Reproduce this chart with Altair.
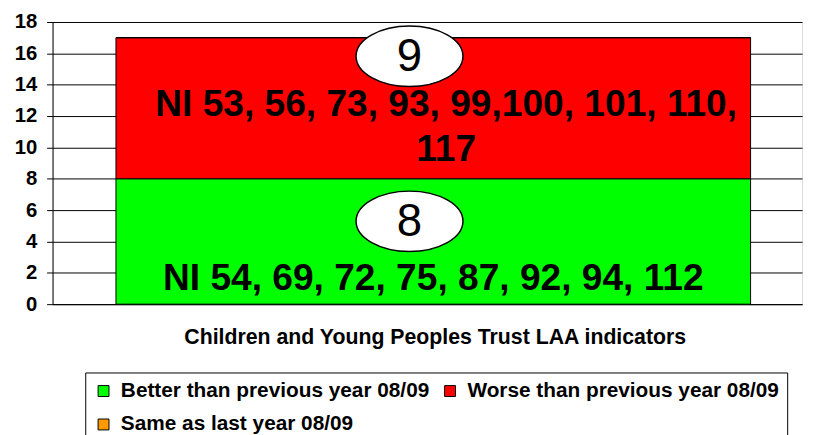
import altair as alt
import pandas as pd

# ---- data ----
group_name = "CYPT"
categories = ["Better than previous year 08/09", "Worse than previous year 08/09", "Same as last year 08/09"]
counts = [8, 9, 0]
colors = ["#00FF00", "#FF0000", "#FF9900"]
indicator_lines = [
    ["NI 54, 69, 72, 75, 87, 92, 94, 112"],
    ["NI 53, 56, 73, 93, 99,100, 101, 110,", "117"],
    [""],
]
y_ticks = [0, 2, 4, 6, 8, 10, 12, 14, 16, 18]
x_title = "Children and Young Peoples Trust LAA indicators"

df = pd.DataFrame({
    "group": [group_name] * len(categories),
    "category": categories,
    "count": counts,
    "rank": list(range(len(categories))),
    "label": ["\n".join(l) for l in indicator_lines],
})

ELLIPSE = "M -1 0 A 1 0.565 0 1 1 1 0 A 1 0.565 0 1 1 -1 0 Z"
FONT = "Liberation Sans"

x_axis = alt.Axis(
    labels=False, ticks=False, title=x_title, domainColor="black",
    titleFont=FONT, titleFontSize=21.5, titleFontWeight="bold", titleColor="black",
    titleX=386, titleY=40, titleBaseline="alphabetic", titleAlign="center",
)
y_axis = alt.Axis(
    values=y_ticks, title=None, grid=True, gridColor="black", gridOpacity=1,
    domainColor="black", tickColor="black", tickSize=6, labelPadding=10,
    labelOverlap=False, labelFlush=False,
    labelFont=FONT, labelFontSize=20.5, labelFontWeight="bold", labelColor="black",
)
x_scale = alt.Scale(paddingInner=0, paddingOuter=0.0905, align=0.552)
y_scale = alt.Scale(domain=[0, 18], nice=False)

base = alt.Chart(df)

bars = base.mark_bar(stroke="black", strokeWidth=1).encode(
    x=alt.X("group:N", scale=x_scale, axis=x_axis),
    y=alt.Y("count:Q", stack="zero", scale=y_scale, axis=y_axis),
    color=alt.Color(
        "category:N",
        sort=categories,
        scale=alt.Scale(domain=categories, range=colors),
        legend=alt.Legend(
            title=None, orient="none", legendX=33, legendY=354, columns=2,
            direction="horizontal",
            symbolType="square", symbolSize=121, symbolStrokeColor="black",
            symbolStrokeWidth=1, symbolOpacity=1,
            labelFont=FONT, labelFontSize=21, labelFontWeight="bold", labelColor="black",
            labelLimit=600, labelOffset=7, strokeColor="black", fillColor="white",
            padding=8, rowPadding=12, columnPadding=10,
        ),
    ),
    order=alt.Order("rank:Q"),
)

stacked = base.transform_stack(
    stack="count", groupby=["group"], as_=["y0", "y1"],
    sort=[alt.SortField("rank", order="ascending")],
)


def labels_for(cat, ell_off, num_off, text_dx, text_dy):
    sub = stacked.transform_filter(alt.datum.category == cat)
    enc = dict(x=alt.X("group:N", scale=x_scale, axis=x_axis),
               y=alt.Y("y1:Q", scale=y_scale, axis=y_axis))
    ell = sub.mark_point(
        shape=ELLIPSE, size=11664, filled=True, fill="white", stroke="black",
        strokeWidth=1.5, opacity=1, xOffset=-24, yOffset=ell_off,
    ).encode(**enc)
    num = sub.mark_text(
        font=FONT, fontSize=46, color="black", baseline="middle", align="center",
        dx=-24, dy=num_off,
    ).encode(text="count:Q", **enc)
    txt = sub.mark_text(
        font=FONT, fontSize=37.5, fontWeight="bold", color="black", align="center",
        baseline="alphabetic", lineBreak="\n", lineHeight=45, dx=text_dx, dy=text_dy,
    ).encode(text="label:N", **enc)
    return [ell, num, txt]


layers = [bars]
layers += labels_for(categories[1], 18.7, 20, 13, 79.2)
layers += labels_for(categories[0], 43, 44, 0, 112.7)

chart = alt.layer(*layers).properties(
    width=757, height=285,
    autosize=alt.AutoSizeParams(type="none"),
    padding={"left": 45, "top": 12, "right": 4, "bottom": 130},
).configure_view(stroke=None).configure_axis(
    labelFontWeight="bold", labelColor="black"
).configure(background="white")

chart.save("out.html", embed_options={"renderer": "svg", "actions": False})
